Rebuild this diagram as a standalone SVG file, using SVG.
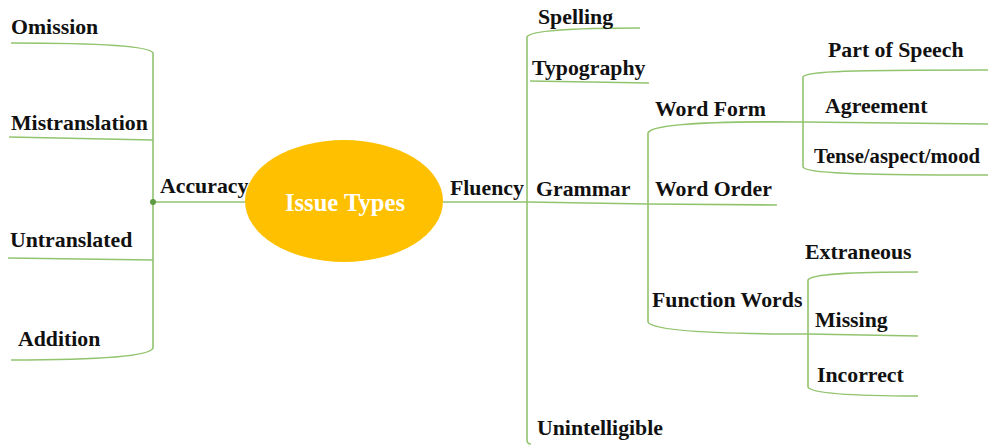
<svg xmlns="http://www.w3.org/2000/svg" width="988" height="445" viewBox="0 0 988 445">
<style>
.l{fill:none;stroke:#92c46e;stroke-width:1.6}
</style>
<rect width="988" height="445" fill="#fff"/>
<g id="connectors">
<path class="l" d="M443,202 L527,202 L648,204 L777,205"/>
<path class="l" d="M248,202 L153,202"/>
<path class="l" d="M11,43 C100,43 150,46 153,53 L153,348 C150,356 100,360 11,360"/>
<path class="l" d="M9,137 L153,140"/>
<path class="l" d="M8,258 L153,260"/>
<path class="l" d="M640,28 C580,28 530,30 527,37 L527,440 C527,443 528,444 531,444"/>
<path class="l" d="M530,81 L649,83"/>
<path class="l" d="M648,322 L648,133 C651,125 700,121 803,122 L803,77 C806,71 850,70 988,70"/>
<path class="l" d="M803,122 L988,124"/>
<path class="l" d="M803,122 L803,167 C806,173 850,175 988,175"/>
<path class="l" d="M648,322 C652,330 700,334 808,334 L918,336"/>
<path class="l" d="M808,334 L808,280 C811,274 850,272 918,272"/>
<path class="l" d="M808,334 L808,387 C811,393 850,396 918,396"/>
<circle cx="153" cy="202" r="3" fill="#5e9a42"/>
</g>
<g font-family="Liberation Serif, Times New Roman, serif" font-weight="bold" font-size="21.8" fill="#111">
<g id="issue-types">
<ellipse cx="344" cy="201" rx="99" ry="61" fill="#ffc000"/>
<text x="345" y="211" text-anchor="middle" font-size="24.6" fill="#fff">Issue Types</text>
</g>
<g id="accuracy"><text x="160" y="193">Accuracy</text></g>
<g id="omission"><text x="11" y="34">Omission</text></g>
<g id="mistranslation"><text x="11" y="130">Mistranslation</text></g>
<g id="untranslated"><text x="10" y="247">Untranslated</text></g>
<g id="addition"><text x="18" y="346">Addition</text></g>
<g id="fluency"><text x="450" y="195">Fluency</text></g>
<g id="spelling"><text x="538" y="24">Spelling</text></g>
<g id="typography"><text x="532" y="75">Typography</text></g>
<g id="grammar"><text x="536" y="196">Grammar</text></g>
<g id="unintelligible"><text x="537" y="435">Unintelligible</text></g>
<g id="word-form"><text x="655" y="116">Word Form</text></g>
<g id="word-order"><text x="655" y="196">Word Order</text></g>
<g id="function-words"><text x="652" y="307">Function Words</text></g>
<g id="part-of-speech"><text x="828" y="57">Part of Speech</text></g>
<g id="agreement"><text x="825" y="113">Agreement</text></g>
<g id="tense"><text x="814" y="163" font-size="20.5" textLength="166" lengthAdjust="spacingAndGlyphs">Tense/aspect/mood</text></g>
<g id="extraneous"><text x="805" y="259">Extraneous</text></g>
<g id="missing"><text x="815" y="327">Missing</text></g>
<g id="incorrect"><text x="817" y="382">Incorrect</text></g>
</g>
</svg>
